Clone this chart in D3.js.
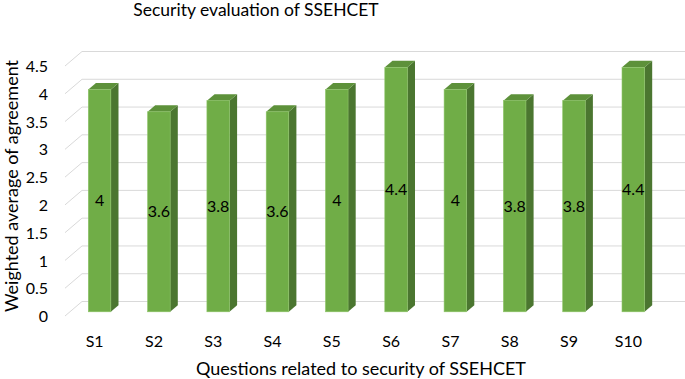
<!DOCTYPE html>
<html>
<head>
<meta charset="utf-8">
<script src="https://cdn.jsdelivr.net/npm/d3@7"></script>
<style>
  body { margin: 0; background: #fff; }
  svg text { font-family: Lato, "Noto Sans", sans-serif; fill: #000; }
</style>
</head>
<body>
<div id="chart"></div>
<script>
const questions = ["S1", "S2", "S3", "S4", "S5", "S6", "S7", "S8", "S9", "S10"];
const agreement = [4, 3.6, 3.8, 3.6, 4, 4.4, 4, 3.8, 3.8, 4.4];
const yTicks = [0, 0.5, 1, 1.5, 2, 2.5, 3, 3.5, 4, 4.5];

const w = 685, h = 379;
const svg = d3.select("#chart").append("svg").attr("width", w).attr("height", h);

// fake 3d: offset of the back wall, bars sit in the middle of the depth
const depthX = 17, depthY = -14.5;
const f0 = 0.29, f1 = 0.74;

const x = d3.scaleBand().domain(questions).range([65, 658]).paddingInner(0.62).paddingOuter(0.31);
const y = d3.scaleLinear().domain([0, 4.5]).range([316, 66]);

// grid: diagonal on the side, horizontal on the back wall
const grid = svg.append("g").attr("stroke", "#d9d9d9").attr("stroke-width", 1);
grid.selectAll(".diag").data(yTicks).join("line")
    .attr("x1", 65).attr("y1", d => y(d))
    .attr("x2", 65 + depthX).attr("y2", d => y(d) + depthY);
grid.selectAll(".back").data(yTicks).join("line")
    .attr("x1", 65 + depthX).attr("y1", d => y(d) + depthY)
    .attr("x2", w).attr("y2", d => y(d) + depthY);

// y axis
svg.append("g")
    .attr("transform", "translate(48,0)")
    .call(d3.axisLeft(y).tickValues(yTicks).tickSize(0).tickPadding(0).tickFormat(d3.format("")))
    .call(g => g.select(".domain").remove())
    .selectAll("text").style("font-size", "16px").attr("dy", "0.35em");

// bars
const bars = svg.append("g").selectAll("g").data(questions).join("g");
const bw = x.bandwidth();
bars.each(function(q, i) {
    const g = d3.select(this);
    const v = agreement[i];
    const xl = x(q) + f0 * depthX, xr = xl + bw;
    const yt = y(v) + f0 * depthY, yb = y(0) + f0 * depthY;
    const ox = (f1 - f0) * depthX, oy = (f1 - f0) * depthY;
    // side
    g.append("path")
        .attr("d", `M${xr},${yt}L${xr + ox},${yt + oy}L${xr + ox},${yb + oy}L${xr},${yb}Z`)
        .attr("fill", "#4b7630");
    // top
    g.append("path")
        .attr("d", `M${xl},${yt}L${xl + ox},${yt + oy}L${xr + ox},${yt + oy}L${xr},${yt}Z`)
        .attr("fill", "#5d913a");
    // front
    g.append("rect")
        .attr("x", xl).attr("y", yt).attr("width", bw).attr("height", yb - yt)
        .attr("fill", "#70ad47").attr("stroke", "#8cc466").attr("stroke-width", 0.6);
    g.append("text")
        .attr("x", xl + bw / 2).attr("y", (yt + yb) / 2).attr("dy", "0.35em")
        .attr("text-anchor", "middle").style("font-size", "16px")
        .text(v);
});

// category labels
svg.append("g").selectAll("text").data(questions).join("text")
    .attr("x", d => x(d) + bw / 2).attr("y", 341).attr("dy", "0.35em")
    .attr("text-anchor", "middle").style("font-size", "16px")
    .text(d => d);

// titles
svg.append("text").attr("x", 256).attr("y", 10).attr("dy", "0.35em")
    .attr("text-anchor", "middle").style("font-size", "17.5px")
    .text("Security evaluation of SSEHCET");
svg.append("text").attr("x", 361).attr("y", 369).attr("dy", "0.35em")
    .attr("text-anchor", "middle").style("font-size", "18px")
    .text("Questions related to security of SSEHCET");
svg.append("text").attr("transform", "translate(12,186) rotate(-90)").attr("dy", "0.35em")
    .attr("text-anchor", "middle").style("font-size", "18px")
    .text("Weighted average of agreement");
</script>
</body>
</html>
